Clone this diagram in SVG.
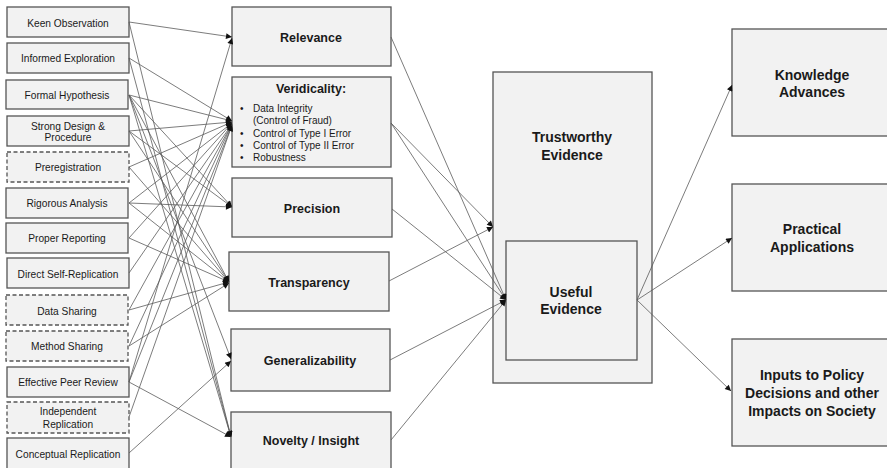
<svg xmlns="http://www.w3.org/2000/svg" width="887" height="468" viewBox="0 0 887 468">
<defs>
<style>
.box{fill:#f2f2f2;stroke:#555;stroke-width:1.3}
.dash{stroke-dasharray:4 2.5}
.lt{font-family:"Liberation Sans",Arial,sans-serif;font-size:10.2px;fill:#1a1a1a;text-anchor:middle}
.mt{font-family:"Liberation Sans",Arial,sans-serif;font-size:12.5px;font-weight:bold;fill:#1a1a1a;text-anchor:middle}
.bt{font-family:"Liberation Sans",Arial,sans-serif;font-size:10px;fill:#1a1a1a}
.rt{font-family:"Liberation Sans",Arial,sans-serif;font-size:14px;font-weight:bold;fill:#1a1a1a;text-anchor:middle}
#connectors line{stroke:#5a5a5a;stroke-width:0.8;fill:none}
</style>
<marker id="ah" viewBox="0 0 10 10" refX="10" refY="5" markerWidth="7" markerHeight="6" markerUnits="userSpaceOnUse" orient="auto"><path d="M0,0 L10,5 L0,10 z" fill="#111"/></marker>
</defs>
<rect width="887" height="468" fill="#fff"/>

<g id="keen"><rect class="box" x="7" y="7" width="122" height="30"/><text class="lt" x="68" y="26.5">Keen Observation</text></g>
<g id="informed"><rect class="box" x="7" y="43" width="122" height="30"/><text class="lt" x="68" y="62">Informed Exploration</text></g>
<g id="formal"><rect class="box" x="6" y="80" width="122" height="29"/><text class="lt" x="67" y="98.5">Formal Hypothesis</text></g>
<g id="strong"><rect class="box" x="7" y="116" width="122" height="30"/><text class="lt" x="68" y="129.5">Strong Design &amp;</text><text class="lt" x="68" y="141">Procedure</text></g>
<g id="prereg"><rect class="box dash" x="7" y="152" width="122" height="30"/><text class="lt" x="68" y="170.5">Preregistration</text></g>
<g id="rigorous"><rect class="box" x="6" y="188" width="122" height="30"/><text class="lt" x="67" y="206.5">Rigorous Analysis</text></g>
<g id="proper"><rect class="box" x="6" y="223" width="122" height="30"/><text class="lt" x="67" y="241.5">Proper Reporting</text></g>
<g id="direct"><rect class="box" x="7" y="258" width="122" height="30"/><text class="lt" x="68" y="277.5">Direct Self-Replication</text></g>
<g id="datashare"><rect class="box dash" x="6" y="295" width="122" height="30"/><text class="lt" x="67" y="314.5">Data Sharing</text></g>
<g id="methodshare"><rect class="box dash" x="6" y="331" width="122" height="30"/><text class="lt" x="67" y="349.5">Method Sharing</text></g>
<g id="peer"><rect class="box" x="7" y="367" width="122" height="30"/><text class="lt" x="68" y="385.5">Effective Peer Review</text></g>
<g id="indep"><rect class="box dash" x="7" y="402" width="122" height="31"/><text class="lt" x="68" y="414.5">Independent</text><text class="lt" x="68" y="427.5">Replication</text></g>
<g id="conceptual"><rect class="box" x="7" y="438" width="122" height="32"/><text class="lt" x="68" y="457.5">Conceptual Replication</text></g>

<g id="relevance"><rect class="box" x="232" y="7" width="159" height="59"/><text class="mt" x="311" y="41.5">Relevance</text></g>
<g id="veridicality"><rect class="box" x="232" y="77" width="159" height="90"/><text class="mt" x="311" y="92.5">Veridicality:</text>
<text class="bt" x="240" y="112">•</text><text class="bt" x="253" y="112">Data Integrity</text>
<text class="bt" x="253" y="123.5">(Control of Fraud)</text>
<text class="bt" x="240" y="137">•</text><text class="bt" x="253" y="137">Control of Type I Error</text>
<text class="bt" x="240" y="149">•</text><text class="bt" x="253" y="149">Control of Type II Error</text>
<text class="bt" x="240" y="161">•</text><text class="bt" x="253" y="161">Robustness</text></g>
<g id="precision"><rect class="box" x="232" y="178" width="160" height="59"/><text class="mt" x="312" y="212.5">Precision</text></g>
<g id="transparency"><rect class="box" x="229" y="252" width="160" height="59"/><text class="mt" x="309" y="286.5">Transparency</text></g>
<g id="generalizability"><rect class="box" x="231" y="329" width="159" height="62"/><text class="mt" x="310" y="364.5">Generalizability</text></g>
<g id="novelty"><rect class="box" x="231" y="412" width="160" height="58"/><text class="mt" x="311" y="444.5">Novelty / Insight</text></g>

<g id="trustworthy"><rect class="box" x="493" y="72" width="159" height="311"/><text class="rt" x="572" y="142">Trustworthy</text><text class="rt" x="572" y="159.5">Evidence</text></g>
<g id="useful"><rect class="box" x="506" y="241" width="131" height="119"/><text class="rt" x="571" y="297">Useful</text><text class="rt" x="571" y="314">Evidence</text></g>

<g id="knowledge"><rect class="box" x="732" y="29" width="160" height="107"/><text class="rt" x="812" y="80">Knowledge</text><text class="rt" x="812" y="97">Advances</text></g>
<g id="practical"><rect class="box" x="732" y="184" width="160" height="107"/><text class="rt" x="812" y="234">Practical</text><text class="rt" x="812" y="251.5">Applications</text></g>
<g id="inputs"><rect class="box" x="732" y="339" width="160" height="107"/><text class="rt" x="812" y="380">Inputs to Policy</text><text class="rt" x="812" y="398">Decisions and other</text><text class="rt" x="812" y="416">Impacts on Society</text></g>

<g id="connectors">
<line x1="129" y1="22" x2="232" y2="37" marker-end="url(#ah)"/>
<line x1="129" y1="22" x2="231" y2="437" marker-end="url(#ah)"/>
<line x1="129" y1="58" x2="232" y2="121" marker-end="url(#ah)"/>
<line x1="129" y1="58" x2="231" y2="437" marker-end="url(#ah)"/>
<line x1="129" y1="95" x2="232" y2="121" marker-end="url(#ah)"/>
<line x1="129" y1="95" x2="232" y2="207" marker-end="url(#ah)"/>
<line x1="129" y1="95" x2="229" y2="282" marker-end="url(#ah)"/>
<line x1="129" y1="95" x2="231" y2="437" marker-end="url(#ah)"/>
<line x1="129" y1="95" x2="231" y2="359" marker-end="url(#ah)"/>
<line x1="129" y1="131" x2="232" y2="122" marker-end="url(#ah)"/>
<line x1="129" y1="131" x2="232" y2="207" marker-end="url(#ah)"/>
<line x1="129" y1="131" x2="229" y2="282" marker-end="url(#ah)"/>
<line x1="129" y1="167" x2="232" y2="122" marker-end="url(#ah)"/>
<line x1="129" y1="167" x2="229" y2="282" marker-end="url(#ah)"/>
<line x1="129" y1="203" x2="232" y2="123" marker-end="url(#ah)"/>
<line x1="129" y1="203" x2="232" y2="207" marker-end="url(#ah)"/>
<line x1="129" y1="203" x2="229" y2="282" marker-end="url(#ah)"/>
<line x1="129" y1="238" x2="232" y2="123" marker-end="url(#ah)"/>
<line x1="129" y1="238" x2="229" y2="282" marker-end="url(#ah)"/>
<line x1="129" y1="273" x2="232" y2="124" marker-end="url(#ah)"/>
<line x1="129" y1="310" x2="232" y2="124" marker-end="url(#ah)"/>
<line x1="129" y1="310" x2="229" y2="282" marker-end="url(#ah)"/>
<line x1="129" y1="346" x2="232" y2="124" marker-end="url(#ah)"/>
<line x1="129" y1="346" x2="229" y2="283" marker-end="url(#ah)"/>
<line x1="129" y1="382" x2="232" y2="38" marker-end="url(#ah)"/>
<line x1="129" y1="382" x2="232" y2="125" marker-end="url(#ah)"/>
<line x1="129" y1="382" x2="231" y2="437" marker-end="url(#ah)"/>
<line x1="129" y1="417" x2="232" y2="125" marker-end="url(#ah)"/>
<line x1="129" y1="453" x2="231" y2="361" marker-end="url(#ah)"/>
<line x1="391" y1="37" x2="506" y2="300" marker-end="url(#ah)"/>
<line x1="391" y1="123" x2="493" y2="227" marker-end="url(#ah)"/>
<line x1="391" y1="123" x2="506" y2="300" marker-end="url(#ah)"/>
<line x1="392" y1="209" x2="506" y2="300" marker-end="url(#ah)"/>
<line x1="389" y1="281" x2="493" y2="227" marker-end="url(#ah)"/>
<line x1="390" y1="360" x2="506" y2="300" marker-end="url(#ah)"/>
<line x1="391" y1="440" x2="506" y2="300" marker-end="url(#ah)"/>
<line x1="637" y1="300" x2="732" y2="85" marker-end="url(#ah)"/>
<line x1="637" y1="300" x2="732" y2="238" marker-end="url(#ah)"/>
<line x1="637" y1="300" x2="731" y2="391" marker-end="url(#ah)"/>
</g>
</svg>
